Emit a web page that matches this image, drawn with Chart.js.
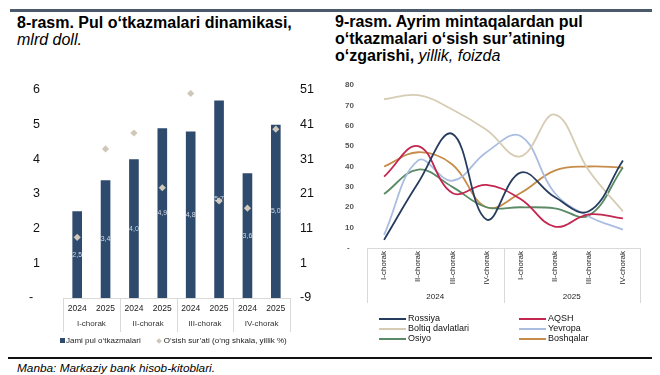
<!DOCTYPE html>
<html lang="uz">
<head>
<meta charset="utf-8">
<script src="https://cdn.jsdelivr.net/npm/chart.js@4/dist/chart.umd.min.js"></script>
<style>
  body { margin: 0; width: 660px; height: 375px; background: #fff; position: relative; overflow: hidden;
         font-family: "Liberation Sans", Arial, sans-serif; color: #000; }
  .abs { position: absolute; }
  .topbar { left: 10px; top: 9px; width: 642px; height: 3px; background: #4b5a6b; }
  .title { font-size: 16px; font-weight: bold; line-height: 16.5px; }
  .title i { font-weight: normal; }
  .legend-left { left: 60px; top: 336px; font-size: 8px; color: #222; white-space: nowrap; }
  .legend-left .sq { display: inline-block; width: 5px; height: 5px; background: #2e4a6d; margin-right: 1px; }
  .legend-left .dia { display: inline-block; width: 4px; height: 4px; background: #cfc7ba; transform: rotate(45deg);
                      margin: 0 3px 0 16px; }
  .legend-right { font-size: 9px; line-height: 10px; color: #111; white-space: nowrap; }
  .legend-right span.ln { display: inline-block; width: 27px; height: 2px; vertical-align: middle; margin-right: 2px; }
  .footline { left: 8px; top: 357px; width: 644px; height: 1.5px; background: #111; }
  .source { left: 17px; top: 361px; font-size: 11.8px; font-style: italic; }
</style>
</head>
<body>
<div class="abs topbar"></div>
<div class="abs title" style="left:17px; top:15px;">8-rasm. Pul o‘tkazmalari dinamikasi,<br><i>mlrd doll.</i></div>
<div class="abs title" style="left:335px; top:13px; line-height:17px;">9-rasm. Ayrim mintaqalardan pul<br>o‘tkazmalari o‘sish sur’atining<br>o‘zgarishi, <i>yillik, foizda</i></div>

<canvas id="transfersChart" class="abs" width="330" height="260" style="left:0; top:80px;"></canvas>
<div class="abs legend-left"><span class="sq"></span>Jami pul o‘tkazmalari<span class="dia"></span>O‘sish sur’ati (o‘ng shkala, yillik %)</div>

<canvas id="regionsChart" class="abs" width="330" height="229" style="left:330px; top:75px;"></canvas>
<div id="regionsLegend"></div>

<div class="abs footline"></div>
<div class="abs source">Manba: Markaziy bank hisob-kitoblari.</div>

<script>
  // --- 8-rasm ma'lumotlari
  const quarters = ["I-chorak", "II-chorak", "III-chorak", "IV-chorak"];
  const barYears = ["2024", "2025", "2024", "2025", "2024", "2025", "2024", "2025"];
  const transfers = [2.5, 3.4, 4.0, 4.9, 4.8, 5.7, 3.6, 5.0];
  const growth = [8.5, 34, 38.6, 22.8, 50, 19, 16.9, 39.7];

  // --- 9-rasm ma'lumotlari
  const years = ["2024", "2025"];
  const periods = ["I-chorak", "II-chorak", "III-chorak", "IV-chorak", "I-chorak", "II-chorak", "III-chorak", "IV-chorak"];
  const rossiya = [4, 32, 56, 14, 37, 25, 18, 43];
  const aqsh = [35, 50, 27, 31, 24, 10.5, 16.5, 14.5];
  const boltiq = [73, 75, 68, 58, 45, 65.5, 38, 18];
  const yevropa = [6.5, 43, 33, 47, 55, 27, 15.5, 9];
  const osiyo = [26.5, 38.5, 30, 20, 20, 19.5, 16, 39.5];
  const boshqalar = [40, 47, 41, 20, 27, 38, 40, 39.5];

  const FONT = "'Liberation Sans', Arial, sans-serif";
  Chart.defaults.font.family = FONT;
  Chart.defaults.animation = false;

  const dash = (v) => (v === 0 ? "-  " : v);

  // fixed axis sizes, no extra label padding
  const fixWidth = (w) => (s) => { s.width = w; s.paddingTop = 0; s.paddingBottom = 0; };
  const fixHeight = (h) => (s) => { s.height = h; s.paddingLeft = 0; s.paddingRight = 0; };

  // table-like separators under the category axis
  const groupLines = {
    id: "groupLines",
    afterDraw(chart, args, opts) {
      const x = chart.scales.x;
      const { ctx, chartArea } = chart;
      const n = x.ticks.length;
      const half = (x.getPixelForValue(1) - x.getPixelForValue(0)) / 2;
      ctx.save();
      ctx.strokeStyle = opts.color;
      ctx.lineWidth = 1;
      ctx.beginPath();
      for (let i = 0; i <= n; i += opts.every) {
        const px = Math.round(i === n ? x.getPixelForValue(n - 1) + half : x.getPixelForValue(i) - half) + 0.5;
        ctx.moveTo(px, chartArea.bottom);
        ctx.lineTo(px, chartArea.bottom + opts.depth);
      }
      const y0 = Math.round(chartArea.bottom) + 0.5;
      ctx.moveTo(chartArea.left, y0);
      ctx.lineTo(chartArea.right, y0);
      ctx.stroke();
      ctx.restore();
    },
  };

  // values inside the bars
  const barValues = {
    id: "barValues",
    afterDatasetsDraw(chart) {
      const meta = chart.getDatasetMeta(1);
      const { ctx } = chart;
      ctx.save();
      ctx.font = `7px ${FONT}`;
      ctx.fillStyle = "#d3dbe6";
      ctx.textAlign = "center";
      ctx.textBaseline = "middle";
      meta.data.forEach((bar, i) => {
        ctx.fillText(transfers[i].toFixed(1).replace(".", ","), bar.x, (bar.y + bar.base) / 2);
      });
      ctx.restore();
    },
  };

  new Chart(document.getElementById("transfersChart"), {
    type: "bar",
    data: {
      labels: barYears,
      datasets: [
        {
          type: "line",
          label: "O‘sish sur’ati (o‘ng shkala, yillik %)",
          data: growth,
          yAxisID: "y1",
          showLine: false,
          pointStyle: "rectRot",
          pointRadius: 3.6,
          pointBackgroundColor: "#cfc7ba",
          pointBorderWidth: 0,
          order: 0,
        },
        {
          type: "bar",
          label: "Jami pul o‘tkazmalari",
          data: transfers,
          yAxisID: "y",
          backgroundColor: "#2e4a6d",
          barPercentage: 0.34,
          categoryPercentage: 1,
          order: 1,
        },
      ],
    },
    options: {
      responsive: false,
      devicePixelRatio: 1,
      layout: { padding: { top: 10, left: 0, right: 0, bottom: 0 } },
      plugins: {
        legend: { display: false },
        tooltip: { enabled: false },
        groupLines: { color: "#d9d9d9", every: 2, depth: 34 },
      },
      scales: {
        x: {
          grid: { display: false, drawTicks: false },
          border: { display: false },
          ticks: { font: { size: 8.5 }, color: "#1a1a1a", padding: 6, maxRotation: 0, autoSkip: false },
          afterFit: fixHeight(18),
        },
        x2: {
          type: "category",
          labels: quarters,
          position: "bottom",
          weight: 1,
          offset: true,
          grid: { display: false, drawTicks: false },
          border: { display: false },
          ticks: { font: { size: 8 }, color: "#333", padding: 3 },
          afterFit: fixHeight(24),
        },
        y: {
          min: 0,
          max: 6,
          grid: { display: false, drawTicks: false },
          border: { display: false },
          ticks: { stepSize: 1, font: { size: 12.5 }, color: "#111", padding: 23, callback: dash },
          afterFit: fixWidth(63),
        },
        y1: {
          position: "right",
          min: -9,
          max: 51,
          grid: { display: false, drawTicks: false },
          border: { display: false },
          ticks: { stepSize: 10, font: { size: 12.5 }, color: "#111", padding: 10 },
          afterFit: fixWidth(40),
        },
      },
    },
    plugins: [groupLines, barValues],
  });

  const regionSeries = [
    { label: "Rossiya", data: rossiya, color: "#263c5e" },
    { label: "AQSH", data: aqsh, color: "#c3264f" },
    { label: "Boltiq davlatlari", data: boltiq, color: "#d6ccb4" },
    { label: "Yevropa", data: yevropa, color: "#aabde0" },
    { label: "Osiyo", data: osiyo, color: "#5b8a66" },
    { label: "Boshqalar", data: boshqalar, color: "#c58c4a" },
  ];

  new Chart(document.getElementById("regionsChart"), {
    type: "line",
    data: {
      labels: periods,
      datasets: regionSeries.map((s) => ({
        label: s.label,
        data: s.data,
        borderColor: s.color,
        borderWidth: 1.8,
        pointRadius: 0,
        tension: 0.4,
        fill: false,
      })),
    },
    options: {
      responsive: false,
      devicePixelRatio: 1,
      layout: { padding: { top: 10, left: 0, right: 20, bottom: 0 } },
      plugins: {
        legend: { display: false },
        tooltip: { enabled: false },
        groupLines: { color: "#d9d9d9", every: 4, depth: 55 },
      },
      scales: {
        x: {
          offset: true,
          grid: { display: false, drawTicks: false },
          border: { display: false },
          ticks: { font: { size: 8 }, color: "#222", padding: 3, minRotation: 90, maxRotation: 90, autoSkip: false },
          afterFit: fixHeight(40),
        },
        x2: {
          type: "category",
          labels: years,
          position: "bottom",
          weight: 1,
          offset: true,
          grid: { display: false, drawTicks: false },
          border: { display: false },
          ticks: { font: { size: 8 }, color: "#222", padding: 4 },
          afterFit: fixHeight(16),
        },
        y: {
          min: 0,
          max: 80,
          grid: { display: false, drawTicks: false },
          border: { display: false },
          ticks: { stepSize: 10, font: { size: 8, weight: "bold" }, color: "#555", padding: 13, callback: dash },
          afterFit: fixWidth(37),
        },
      },
    },
    plugins: [groupLines],
  });

  // legend: two columns, three rows
  const legendBox = document.getElementById("regionsLegend");
  regionSeries.forEach((s, i) => {
    const item = document.createElement("div");
    item.className = "abs legend-right";
    item.style.left = (i % 2 === 0 ? 379 : 519) + "px";
    item.style.top = 313 + Math.floor(i / 2) * 10 + "px";
    item.innerHTML = `<span class="ln" style="background:${s.color}"></span>${s.label}`;
    legendBox.appendChild(item);
  });
</script>
</body>
</html>
